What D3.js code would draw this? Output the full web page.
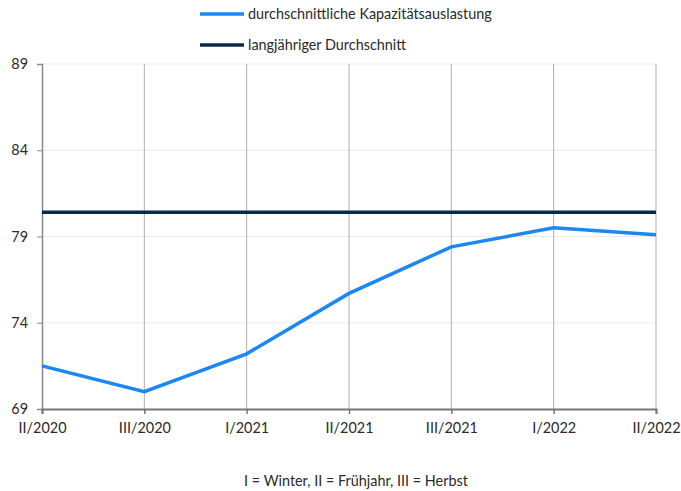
<!DOCTYPE html>
<html><head><meta charset="utf-8">
<script src="https://cdn.jsdelivr.net/npm/d3@7"></script>
<style>body{margin:0;background:#fff;}svg{display:block;font-family:Lato,sans-serif;}</style>
</head><body><svg id="c" width="681" height="491"></svg>
<script>
const categories = ["II/2020","III/2020","I/2021","II/2021","III/2021","I/2022","II/2022"];
const capacity = [71.5,70.0,72.2,75.7,78.4,79.5,79.1];
const longTermAvg = [80.4,80.4,80.4,80.4,80.4,80.4,80.4];
const yTicks = [69,74,79,84,89];
const seriesNames = ["durchschnittliche Kapazitätsauslastung","langjähriger Durchschnitt"];
const note = "I = Winter, II = Frühjahr, III = Herbst";

const FONT = "Lato,sans-serif";
const FS = 14.4;
const svg = d3.select("#c");
const L=42,R=656,T=64,B=409;
const x = d3.scalePoint().domain(categories).range([L,R]);
const y = d3.scaleLinear().domain([69,89]).range([B,T]);

svg.append("g").selectAll("line").data(yTicks.slice(1)).join("line")
 .attr("x1",L).attr("x2",R).attr("y1",d=>y(d)).attr("y2",d=>y(d))
 .attr("stroke","#ebebeb").attr("stroke-width",1);
svg.append("g").selectAll("line").data(categories.slice(1)).join("line")
 .attr("x1",d=>x(d)).attr("x2",d=>x(d)).attr("y1",T).attr("y2",B)
 .attr("stroke","#b0b0b0").attr("stroke-width",1);

const ya = svg.append("g").attr("transform",`translate(${L},0)`)
 .call(d3.axisLeft(y).tickValues(yTicks).tickSize(5).tickPadding(9));
ya.select(".domain").attr("stroke","#888").attr("stroke-width",1.5);
ya.selectAll(".tick line").attr("stroke","#888");
ya.selectAll("text").attr("font-size",FS).attr("fill","#2a2a2a").style("font-family",FONT);

const xa = svg.append("g").attr("transform",`translate(0,${B})`)
 .call(d3.axisBottom(x).tickSize(5).tickPadding(9));
xa.select(".domain").attr("stroke","#777").attr("stroke-width",2);
xa.selectAll(".tick line").attr("stroke","#777").attr("stroke-width",1.5);
xa.selectAll("text").attr("font-size",FS).attr("fill","#2a2a2a").style("font-family",FONT);

const line = d3.line().x((d,i)=>x(categories[i])).y(d=>y(d));
svg.append("path").datum(longTermAvg).attr("d",line).attr("fill","none")
 .attr("stroke","#0b2848").attr("stroke-width",3.5);
svg.append("path").datum(capacity).attr("d",line).attr("fill","none")
 .attr("stroke","#1a87f5").attr("stroke-width",3.5);

const colors=["#1a87f5","#0b2848"];
const lg = svg.append("g");
seriesNames.forEach((n,i)=>{
  const yy = 14 + i*31;
  lg.append("line").attr("x1",200).attr("x2",244).attr("y1",yy).attr("y2",yy)
    .attr("stroke",colors[i]).attr("stroke-width",3.5);
  lg.append("text").attr("x",248).attr("y",yy).attr("dy","0.35em")
    .attr("font-size",FS).attr("fill","#2a2a2a").text(n);
});

svg.append("text").attr("x",356).attr("y",481).attr("dy","0.35em").attr("text-anchor","middle")
 .attr("font-size",FS).attr("fill","#2a2a2a").text(note);
</script></body></html>
